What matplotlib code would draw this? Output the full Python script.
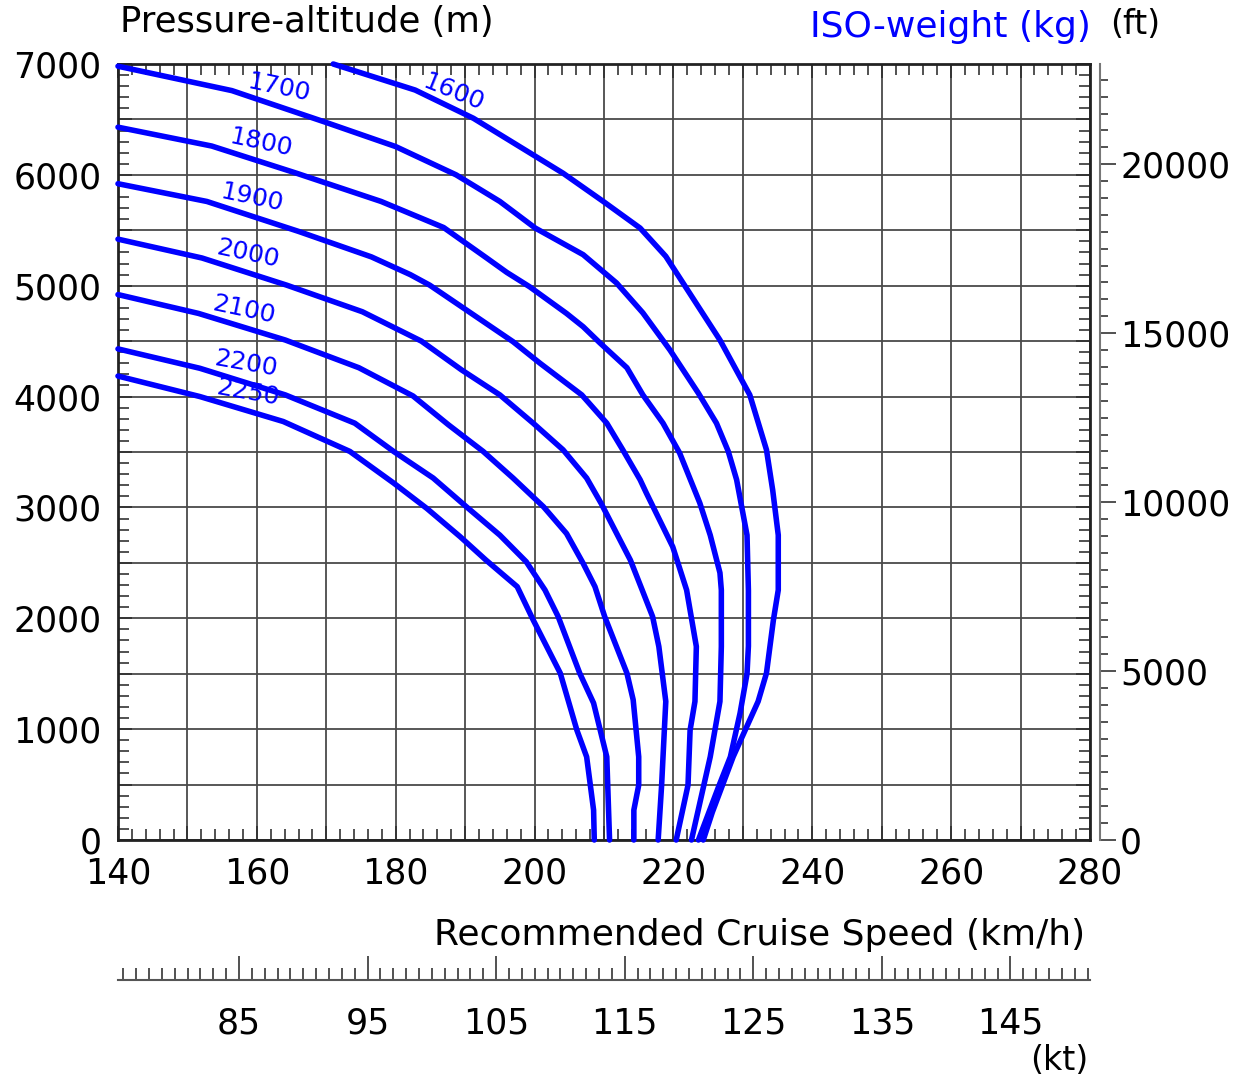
import matplotlib
matplotlib.use("Agg")
import matplotlib.pyplot as plt
from matplotlib.ticker import MultipleLocator, FixedLocator, FuncFormatter

# ISO-weight curves: pressure altitude (m) -> recommended cruise speed (km/h)
alt_1600 = [7000, 6765, 6510, 6180, 6015, 5760, 5520, 5265, 4510, 4015, 3520, 3155, 2750, 2255, 1985, 1505, 1250, 750, 250, 0]
kmh_1600 = [171.0, 182.8, 191.2, 199.8, 204.1, 209.9, 215.2, 218.9, 226.7, 231.0, 233.4, 234.3, 235.1, 235.1, 234.4, 233.4, 232.2, 228.6, 225.6, 224.3]

alt_1700 = [6980, 6760, 6470, 6255, 6000, 5760, 5520, 5280, 5025, 4755, 4420, 4030, 3760, 3505, 3250, 2750, 2250, 1750, 1500, 1145, 750, 480, 0]
kmh_1700 = [140.0, 156.4, 170.1, 180.0, 188.7, 195.0, 200.1, 207.0, 211.8, 215.6, 219.5, 223.6, 226.2, 227.9, 229.1, 230.6, 230.8, 230.8, 230.6, 229.6, 228.2, 226.5, 223.6]

alt_1800 = [6430, 6260, 6015, 5760, 5525, 5250, 5120, 4990, 4750, 4630, 4485, 4260, 4015, 3760, 3490, 3040, 2750, 2410, 2255, 1745, 1250, 750, 0]
kmh_1800 = [140.0, 153.5, 165.7, 177.9, 186.9, 193.1, 196.0, 199.3, 204.6, 207.0, 209.4, 213.3, 215.6, 218.5, 220.9, 223.8, 225.3, 226.7, 226.9, 226.9, 226.7, 225.3, 222.6]

alt_1900 = [5920, 5760, 5490, 5260, 5100, 5005, 4780, 4495, 4300, 4015, 3760, 3520, 3250, 3130, 2645, 2255, 1745, 1250, 990, 495, 0]
kmh_1900 = [140.0, 152.8, 166.0, 176.5, 182.1, 184.9, 190.2, 196.9, 200.8, 206.8, 210.4, 212.7, 215.2, 216.1, 219.9, 221.9, 223.3, 223.1, 222.4, 222.1, 220.4]

alt_2000 = [5420, 5250, 5005, 4765, 4500, 4240, 4015, 3760, 3520, 3265, 3035, 2525, 2255, 2015, 1745, 1250, 750, 495, 0]
kmh_2000 = [140.0, 152.1, 164.3, 175.2, 183.7, 189.5, 195.0, 199.8, 204.1, 207.5, 209.6, 213.8, 215.5, 217.0, 217.9, 218.9, 218.5, 218.3, 217.8]

alt_2100 = [4920, 4750, 4510, 4260, 4005, 3745, 3505, 3265, 3005, 2765, 2495, 2285, 2015, 1505, 1265, 750, 495, 270, 0]
kmh_2100 = [140.0, 151.6, 164.1, 174.7, 182.5, 187.6, 192.6, 196.9, 201.3, 204.6, 207.0, 208.7, 210.1, 213.3, 214.2, 215.0, 215.0, 214.3, 214.3]

alt_2200 = [4430, 4255, 4015, 3760, 3505, 3265, 3005, 2750, 2510, 2255, 2015, 1505, 1235, 750, 0]
kmh_2200 = [140.0, 151.8, 164.1, 174.1, 179.7, 185.4, 190.2, 195.0, 198.8, 201.5, 203.4, 206.5, 208.5, 210.4, 210.8]

alt_2250 = [4185, 4000, 3775, 3505, 3220, 2990, 2735, 2525, 2285, 1985, 1505, 990, 750, 270, 0]
kmh_2250 = [140.0, 151.8, 163.8, 173.4, 179.7, 184.5, 189.3, 193.0, 197.5, 199.8, 203.7, 206.1, 207.5, 208.5, 208.6]

curves = [
    ("1600", kmh_1600, alt_1600),
    ("1700", kmh_1700, alt_1700),
    ("1800", kmh_1800, alt_1800),
    ("1900", kmh_1900, alt_1900),
    ("2000", kmh_2000, alt_2000),
    ("2100", kmh_2100, alt_2100),
    ("2200", kmh_2200, alt_2200),
    ("2250", kmh_2250, alt_2250),
]

# label anchor (km/h, m) and angle for each weight label
label_pos = {
    "1600": (188.3, 6740, -22),
    "1700": (163.2, 6790, -12),
    "1800": (160.5, 6290, -12),
    "1900": (159.3, 5790, -12),
    "2000": (158.7, 5290, -12),
    "2100": (158.1, 4780, -12),
    "2200": (158.4, 4295, -10),
    "2250": (158.7, 4040, -10),
}

KMH_PER_KT = 1.852
M_PER_FT = 0.3048
BLUE = "#0000ff"

W, H = 1244, 1077
fig = plt.figure(figsize=(W / 100, H / 100), dpi=100)

# main chart
ax = fig.add_axes([118 / W, 1 - 840 / H, 972 / W, 776 / H])
ax.set_xlim(140, 280)
ax.set_ylim(0, 7000)
ax.xaxis.set_major_locator(MultipleLocator(10))
ax.xaxis.set_minor_locator(MultipleLocator(2))
ax.yaxis.set_major_locator(MultipleLocator(500))
ax.yaxis.set_minor_locator(MultipleLocator(100))
ax.xaxis.set_major_formatter(FuncFormatter(lambda v, p: f"{v:.0f}" if round(v) % 20 == 0 else ""))
ax.yaxis.set_major_formatter(FuncFormatter(lambda v, p: f"{v:.0f}" if round(v) % 1000 == 0 else ""))
ax.grid(True, which="major", color="#4a4a4a", lw=1.3)
ax.tick_params(which="both", direction="in", top=True, right=True, color="#333333")
ax.tick_params(which="major", length=10, width=1.3)
ax.tick_params(which="minor", length=8, width=1.2)
ax.tick_params(axis="x", labelsize=25, pad=12)
ax.tick_params(axis="y", labelsize=25, pad=12)
for s in ax.spines.values():
    s.set_linewidth(2)
    s.set_color("#222222")

for name, kmh, alt in curves:
    ax.plot(kmh, alt, color=BLUE, lw=4.0, solid_joinstyle="round",
            solid_capstyle="round", clip_on=False, zorder=3)
    lx, ly, rot = label_pos[name]
    ax.text(lx, ly, name, color=BLUE, fontsize=18, rotation=rot,
            ha="center", va="center", zorder=2)

# feet scale on the right
axf = fig.add_axes([1100 / W - 0.0005, 1 - 840 / H, 0.0005, 776 / H])
axf.set_ylim(0, 7000 / M_PER_FT)
axf.patch.set_visible(False)
for s in ["left", "top", "bottom"]:
    axf.spines[s].set_visible(False)
axf.spines["right"].set_color("#777777")
axf.spines["right"].set_linewidth(1.5)
axf.set_xticks([])
axf.yaxis.tick_right()
axf.yaxis.set_major_locator(MultipleLocator(5000))
axf.yaxis.set_minor_locator(MultipleLocator(500))
axf.tick_params(axis="y", which="both", direction="out", color="#333333", width=1.2)
axf.tick_params(axis="y", which="major", length=11.5, pad=3, labelsize=25)
axf.tick_params(axis="y", which="minor", length=6)

# knots scale at the bottom
axk = fig.add_axes([118 / W, 1 - 980 / H, 972 / W, 0.0005])
axk.set_xlim(140 / KMH_PER_KT, 280 / KMH_PER_KT)
axk.patch.set_visible(False)
for s in ["left", "top", "right"]:
    axk.spines[s].set_visible(False)
axk.spines["bottom"].set_color("#555555")
axk.spines["bottom"].set_linewidth(1.5)
axk.set_yticks([])
axk.xaxis.set_major_locator(FixedLocator(list(range(85, 150, 10))))
axk.xaxis.set_minor_locator(MultipleLocator(1))
axk.tick_params(axis="x", which="both", direction="in", color="#333333", width=1.2)
axk.tick_params(axis="x", which="major", length=17, pad=19, labelsize=25)
axk.tick_params(axis="x", which="minor", length=9)

# titles / units
fig.text(120 / W, 1 - 22 / H, "Pressure-altitude (m)", fontsize=25.5, va="center", ha="left")
fig.text(810 / W, 1 - 27 / H, "ISO-weight (kg)", fontsize=26, va="center", ha="left", color=BLUE)
fig.text(1110 / W, 1 - 24 / H, "(ft)", fontsize=24, va="center", ha="left")
fig.text(1085 / W, 1 - 935 / H, "Recommended Cruise Speed (km/h)", fontsize=26, va="center", ha="right")
fig.text(1088 / W, 1 - 1060 / H, "(kt)", fontsize=24, va="center", ha="right")

fig.savefig("out.png", dpi=100)
